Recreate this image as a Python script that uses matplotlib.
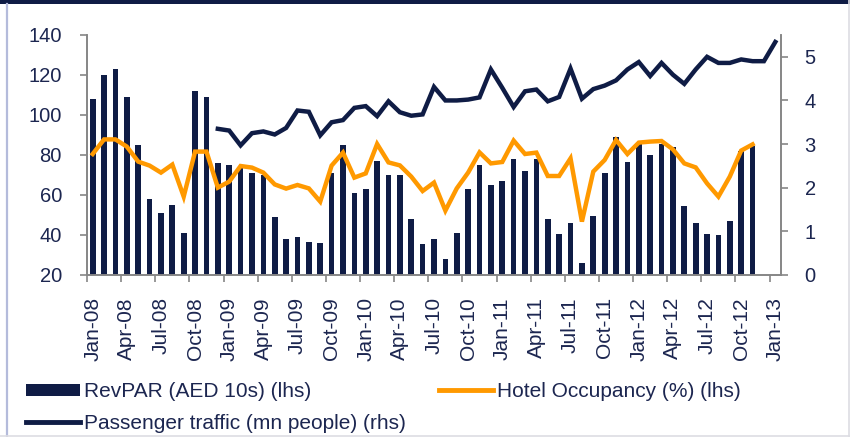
import numpy as np
import matplotlib
matplotlib.use('Agg')
import matplotlib.pyplot as plt
from matplotlib.patches import Patch, Rectangle
from matplotlib.lines import Line2D

plt.rcParams['font.family'] = ['Liberation Sans', 'DejaVu Sans']

# monthly categories Jan-08 .. Jan-13
months = ['Jan', 'Feb', 'Mar', 'Apr', 'May', 'Jun', 'Jul', 'Aug', 'Sep', 'Oct', 'Nov', 'Dec']
categories = ['%s-%02d' % (m, y) for y in range(8, 13) for m in months] + ['Jan-13']

# RevPAR (AED 10s), Jan-08 .. Nov-12
revpar = [108, 120, 123, 109, 85, 58, 51, 55, 41, 112, 109, 76,
          75, 74, 71, 70, 49, 38, 39, 36.5, 36, 71, 85, 61,
          63, 77, 70, 70, 48, 35.5, 38, 28, 41, 63, 75, 65,
          67, 78, 72, 78, 48, 40.5, 46, 26, 49.5, 71, 89, 76.5,
          85.5, 80, 85.5, 84, 54.5, 46, 40.5, 40, 47, 82, 84.5]

# Hotel occupancy (%), Jan-08 .. Nov-12
occupancy = [80.5, 87.8, 87.8, 84.2, 76.7, 74.7, 71.2, 75.2, 59.2, 81.7, 81.7, 63.7,
             66.7, 74.5, 73.7, 71.2, 65.3, 63.2, 65.0, 63.3, 56.7, 74.7, 81.2, 68.7,
             70.8, 85.5, 76.3, 74.8, 69.2, 62.0, 66.2, 52.2, 63.3, 71.2, 81.3, 75.8,
             76.5, 87.2, 80.5, 81.2, 69.5, 69.5, 78.3, 46.7, 71.7, 77.5, 87.5, 80.5,
             86.2, 86.7, 87.0, 82.8, 75.8, 73.8, 65.8, 59.2, 69.2, 82.2, 85.3]

# Passenger traffic (mn people), Dec-08 .. Jan-13
passenger_start = 11
passengers = [3.35,
              3.31, 2.97, 3.25, 3.29, 3.22, 3.37, 3.77, 3.74, 3.20, 3.50, 3.55, 3.83,
              3.87, 3.64, 3.98, 3.73, 3.65, 3.68, 4.31, 4.00, 4.00, 4.02, 4.07, 4.71,
              4.29, 3.85, 4.21, 4.25, 3.98, 4.08, 4.73, 4.04, 4.26, 4.34, 4.46, 4.71,
              4.88, 4.56, 4.86, 4.59, 4.38, 4.71, 5.00, 4.86, 4.86, 4.94, 4.90, 4.90,
              5.34]

navy = '#0f1c45'
orange = '#ff9900'
grey = '#868686'
text_col = '#1c2650'

fig = plt.figure(figsize=(8.5, 4.37), dpi=100)
ax = fig.add_axes([87 / 850, 1 - 275 / 437, (781 - 87) / 850, 240 / 437])
ax2 = ax.twinx()

x = np.arange(len(categories))
ax.bar(x[:len(revpar)], revpar, width=0.5, color=navy, zorder=2)
ax.plot(x[:len(occupancy)], occupancy, color=orange, lw=3.2, solid_joinstyle='miter', zorder=3)
ax2.plot(x[passenger_start:passenger_start + len(passengers)], passengers,
         color=navy, lw=3.2, solid_joinstyle='miter')

ax.set_xlim(-0.5, len(categories) - 0.5)
ax.set_ylim(20, 140)
ax.set_yticks(range(20, 141, 20))
ax2.set_ylim(0, 5.5)
ax2.set_yticks(range(0, 6))

ax.set_xticks(x[::3])
ax.set_xticklabels(categories[::3], rotation=90)
ax.set_xticks(np.arange(-0.5, len(categories) - 1, 3), minor=True)
ax.tick_params(axis='x', which='major', length=0, pad=16, labelsize=15, labelcolor=text_col)
ax.tick_params(axis='x', which='minor', length=5, width=1.2, color=grey, direction='out')
ax.tick_params(axis='y', length=5, width=1.2, color=grey, pad=13, labelsize=14.5, labelcolor=text_col)
ax2.tick_params(axis='y', length=5, width=1.2, color=grey, pad=12, labelsize=14.5, labelcolor=text_col)

for a in (ax, ax2):
    a.spines['top'].set_visible(False)
    for s in ('left', 'right', 'bottom'):
        a.spines[s].set_color(grey)
        a.spines[s].set_linewidth(1.2)

handles = [Patch(facecolor=navy, edgecolor='none'),
           Line2D([], [], color=navy, lw=3.5),
           Line2D([], [], color=orange, lw=3.5)]
labels = ['RevPAR (AED 10s) (lhs)', 'Passenger traffic (mn people) (rhs)',
          'Hotel Occupancy (%) (lhs)']
fig.legend(handles, labels, ncol=2, loc='upper left', bbox_to_anchor=(26 / 850, 1 - 382 / 437),
           frameon=False, fontsize=15, handlelength=2.6, handleheight=0.5, handletextpad=0.2,
           labelspacing=0.63, columnspacing=1.55, borderpad=0, borderaxespad=0,
           labelcolor=text_col)

# outer frame of the exhibit
fig.patches.append(Rectangle((0, 1 - 3.5 / 437), 1, 3.5 / 437, transform=fig.transFigure,
                             facecolor=navy, edgecolor='none'))
fig.add_artist(Line2D([7 / 850, 7 / 850], [0, 1 - 3.5 / 437], transform=fig.transFigure,
                      color='#b4bbdb', lw=1.6))
fig.add_artist(Line2D([848.5 / 850, 848.5 / 850], [0, 1], transform=fig.transFigure,
                      color='#dddde3', lw=1.2))
fig.add_artist(Line2D([0, 1], [0.6 / 437, 0.6 / 437], transform=fig.transFigure,
                      color='#dddde3', lw=1.2))

fig.savefig('out.png', dpi=100)
